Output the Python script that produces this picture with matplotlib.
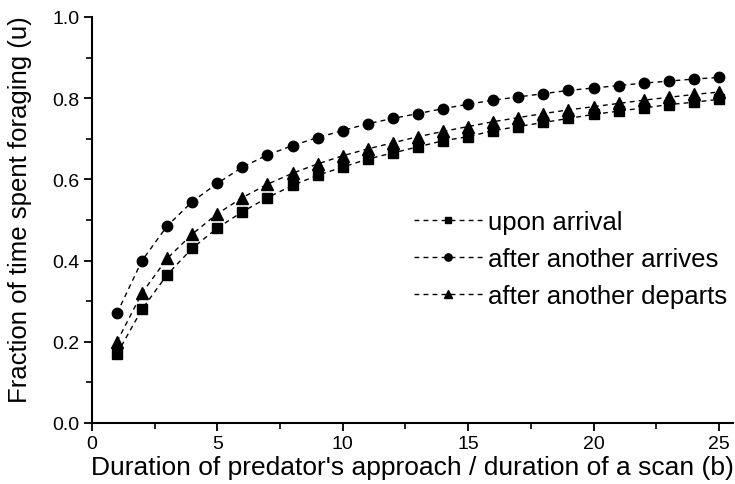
import matplotlib
matplotlib.use("Agg")
import matplotlib.pyplot as plt
from matplotlib.ticker import MultipleLocator

plt.rcParams['font.family'] = ['Liberation Sans', 'DejaVu Sans']

b = list(range(1, 26))
upon_arrival = [0.17, 0.28, 0.365, 0.43, 0.48, 0.52, 0.555, 0.585, 0.61, 0.63,
                0.65, 0.665, 0.68, 0.695, 0.705, 0.72, 0.73, 0.74, 0.75, 0.76,
                0.768, 0.776, 0.784, 0.79, 0.797]
after_arrives = [0.27, 0.40, 0.485, 0.545, 0.59, 0.63, 0.66, 0.683, 0.703, 0.72,
                 0.737, 0.75, 0.762, 0.774, 0.785, 0.795, 0.803, 0.811, 0.819, 0.825,
                 0.831, 0.837, 0.842, 0.847, 0.851]
after_departs = [0.20, 0.32, 0.405, 0.465, 0.515, 0.555, 0.588, 0.615, 0.638, 0.658,
                 0.675, 0.69, 0.705, 0.718, 0.73, 0.742, 0.752, 0.762, 0.771, 0.779,
                 0.787, 0.795, 0.802, 0.809, 0.815]
labels = ['upon arrival', 'after another arrives', 'after another departs']

fig = plt.figure(figsize=(7.35, 4.85), dpi=100)
ax = fig.add_axes([0.125, 0.126, 0.872, 0.837])

ax.plot(b, upon_arrival, 's--', color='black', ms=7, lw=1.0, dashes=(3.5, 3), label=labels[0])
ax.plot(b, after_arrives, 'o--', color='black', ms=7.5, lw=1.0, dashes=(3.5, 3), label=labels[1])
ax.plot(b, after_departs, '^--', color='black', ms=8, lw=1.0, dashes=(3.5, 3), label=labels[2])

ax.set_xlim(0, 25.55)
ax.set_ylim(0, 1.0)
ax.xaxis.set_major_locator(MultipleLocator(5))
ax.xaxis.set_minor_locator(MultipleLocator(2.5))
ax.yaxis.set_major_locator(MultipleLocator(0.2))
ax.yaxis.set_minor_locator(MultipleLocator(0.1))
ax.yaxis.set_major_formatter(plt.FuncFormatter(lambda v, p: f"{v:.1f}"))
ax.spines['top'].set_visible(False)
ax.spines['right'].set_visible(False)
for s in ('left', 'bottom'):
    ax.spines[s].set_linewidth(1.5)
ax.tick_params(which='major', direction='out', length=6, width=1.3, labelsize=14, pad=3)
ax.tick_params(which='minor', direction='out', length=4, width=1.2)

ax.set_xlabel("Duration of predator's approach / duration of a scan (b)", fontsize=19, labelpad=2)
ax.set_ylabel("Fraction of time spent foraging (u)", fontsize=18.5)
ax.yaxis.set_label_coords(-0.093, 0.527)

leg = ax.legend(loc='center left', bbox_to_anchor=(0.502, 0.404), frameon=False,
                fontsize=18.5, handlelength=2.7, handletextpad=0.2, labelspacing=0.5,
                markerscale=0.7, borderpad=0, borderaxespad=0)

fig.savefig('out.png', dpi=100, facecolor='white')
